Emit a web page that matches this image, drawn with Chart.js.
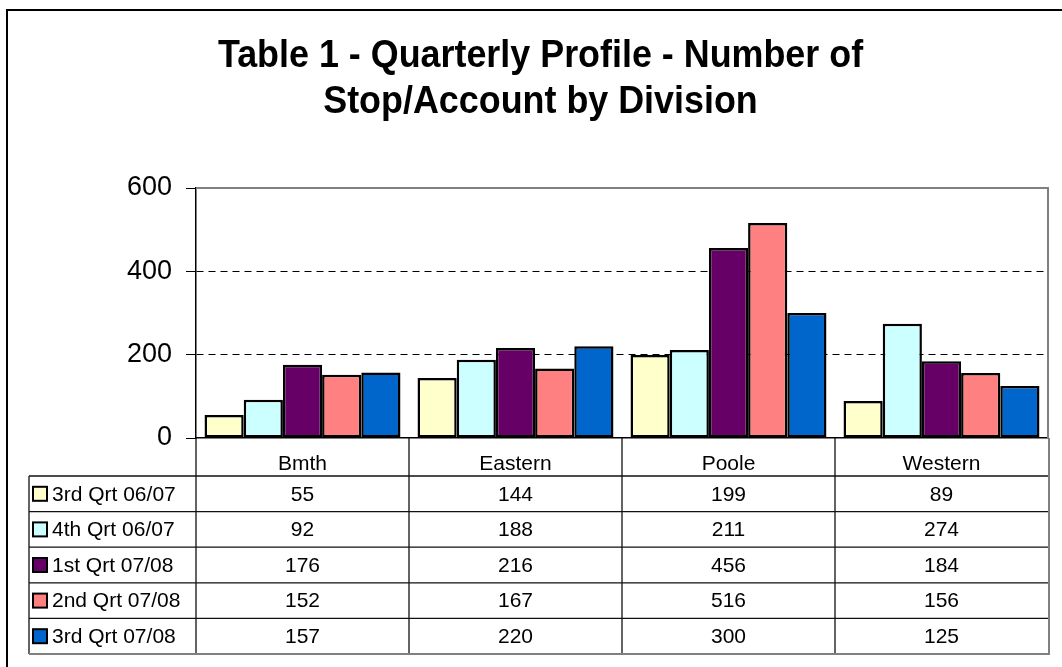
<!DOCTYPE html>
<html>
<head>
<meta charset="utf-8">
<title>Quarterly Profile</title>
<script src="https://cdn.jsdelivr.net/npm/chart.js@4.4.0/dist/chart.umd.min.js"></script>
<style>
    body { margin: 0; background: #fff; }
    canvas { display: block; }
</style>
</head>
<body>
<canvas id="divisionChart" width="1062" height="667"></canvas>
<script>
const divisions = ['Bmth', 'Eastern', 'Poole', 'Western'];
const seriesNames = ['3rd Qrt 06/07', '4th Qrt 06/07', '1st Qrt 07/08', '2nd Qrt 07/08', '3rd Qrt 07/08'];
const qtr3_0607 = [55, 144, 199, 89];
const qtr4_0607 = [92, 188, 211, 274];
const qtr1_0708 = [176, 216, 456, 184];
const qtr2_0708 = [152, 167, 516, 156];
const qtr3_0708 = [157, 220, 300, 125];
const yTicks = [0, 200, 400, 600];
const titleLines = ['Table 1 - Quarterly Profile - Number of', 'Stop/Account by Division'];

const seriesColors = ['#FFFFCC', '#CCFFFF', '#660066', '#FF8080', '#0066CC'];
const seriesValues = [qtr3_0607, qtr4_0607, qtr1_0708, qtr2_0708, qtr3_0708];
const fontFamily = "'Liberation Sans', Arial, sans-serif";

// title, plot frame and the data table under the x axis
const tablePlugin = {
    id: 'tablePlugin',
    beforeDraw(chart) {
        const ctx = chart.ctx;
        ctx.save();
        ctx.fillStyle = '#fff';
        ctx.fillRect(0, 0, chart.width, chart.height);
        ctx.strokeStyle = '#000';
        ctx.lineWidth = 2;
        ctx.beginPath();
        ctx.moveTo(7, chart.height);
        ctx.lineTo(7, 10);
        ctx.lineTo(chart.width, 10);
        ctx.stroke();

        ctx.fillStyle = '#000';
        ctx.font = 'bold 35px ' + fontFamily;
        ctx.textAlign = 'center';
        ctx.textBaseline = 'alphabetic';
        const baselines = [67, 113];
        for (let i = 0; i < titleLines.length; i++) {
            ctx.save();
            ctx.translate(540.5, baselines[i]);
            ctx.scale(1.025, 1.12);
            ctx.fillText(titleLines[i], 0, 0);
            ctx.restore();
        }
        ctx.restore();
    },
    afterDraw(chart) {
        const ctx = chart.ctx;
        const area = chart.chartArea;
        const xScale = chart.scales.x;

        ctx.save();
        // gray top / right edge of the plot area
        ctx.strokeStyle = '#808080';
        ctx.lineWidth = 2;
        ctx.beginPath();
        ctx.moveTo(area.left, area.top);
        ctx.lineTo(area.right, area.top);
        ctx.lineTo(area.right, area.bottom);
        ctx.stroke();

        const headTop = area.bottom;
        const rowTop = 476;
        const rowH = 35.6;
        const tableLeft = 29;
        const tableBottom = rowTop + rowH * seriesNames.length;

        const edges = [area.left];
        for (let i = 0; i < divisions.length - 1; i++) {
            edges.push((xScale.getPixelForTick(i) + xScale.getPixelForTick(i + 1)) / 2);
        }
        edges.push(area.right);

        ctx.strokeStyle = '#111';
        ctx.lineWidth = 1.3;
        ctx.beginPath();
        for (let r = 0; r < seriesNames.length; r++) {
            const y = rowTop + r * rowH;
            ctx.moveTo(tableLeft, y);
            ctx.lineTo(area.right, y);
        }
        ctx.moveTo(tableLeft, rowTop);
        ctx.lineTo(tableLeft, tableBottom);
        for (let i = 0; i < edges.length - 1; i++) {
            ctx.moveTo(edges[i], headTop);
            ctx.lineTo(edges[i], tableBottom);
        }
        ctx.stroke();

        ctx.strokeStyle = '#808080';
        ctx.lineWidth = 2;
        ctx.beginPath();
        ctx.moveTo(tableLeft, tableBottom);
        ctx.lineTo(area.right + 1, tableBottom);
        ctx.lineTo(area.right + 1, headTop);
        ctx.stroke();

        ctx.font = '21px ' + fontFamily;
        ctx.textBaseline = 'middle';
        for (let r = 0; r < seriesNames.length; r++) {
            const cy = rowTop + r * rowH + rowH / 2;
            ctx.fillStyle = seriesColors[r];
            ctx.fillRect(33, cy - 7, 14, 14);
            ctx.strokeStyle = '#000';
            ctx.lineWidth = 2;
            ctx.strokeRect(33, cy - 7, 14, 14);

            ctx.fillStyle = '#000';
            ctx.textAlign = 'left';
            ctx.fillText(seriesNames[r], 52, cy + 1);

            ctx.textAlign = 'center';
            for (let i = 0; i < divisions.length; i++) {
                ctx.fillText(String(seriesValues[r][i]), xScale.getPixelForTick(i), cy + 1);
            }
        }
        ctx.restore();
    }
};

const datasets = [];
for (let i = 0; i < seriesNames.length; i++) {
    datasets.push({
        label: seriesNames[i],
        data: seriesValues[i],
        backgroundColor: seriesColors[i],
        borderColor: '#000',
        borderWidth: 2.5,
        borderSkipped: false,
        barPercentage: 1.0,
        categoryPercentage: 0.92
    });
}

const chartConfig = {
    type: 'bar',
    data: {
        labels: divisions,
        datasets: datasets
    },
    options: {
        responsive: false,
        animation: false,
        layout: {
            padding: { left: 0, right: 14, top: 188, bottom: 11 }
        },
        plugins: {
            legend: { display: false },
            title: { display: false },
            tooltip: { enabled: false }
        },
        scales: {
            x: {
                afterFit: (scale) => { scale.height = 218; },
                grid: { display: false },
                border: { display: true, color: '#000', width: 1.5 },
                ticks: {
                    color: '#000',
                    padding: 6,
                    font: { family: fontFamily, size: 21 }
                }
            },
            y: {
                min: 0,
                max: 600,
                afterFit: (scale) => { scale.width = 196; },
                afterBuildTicks: (scale) => {
                    scale.ticks = yTicks.map(v => ({ value: v }));
                },
                grid: {
                    color: (c) => (c.tick && (c.tick.value === 200 || c.tick.value === 400)) ? '#000' : 'rgba(0,0,0,0)',
                    tickColor: '#000',
                    tickLength: 10,
                    lineWidth: 1
                },
                border: { display: true, color: '#000', width: 1.5, dash: [7, 5] },
                ticks: {
                    color: '#000',
                    padding: 14,
                    font: { family: fontFamily, size: 27 }
                }
            }
        }
    },
    plugins: [tablePlugin]
};

const divisionChart = new Chart(document.getElementById('divisionChart'), chartConfig);
</script>
</body>
</html>
